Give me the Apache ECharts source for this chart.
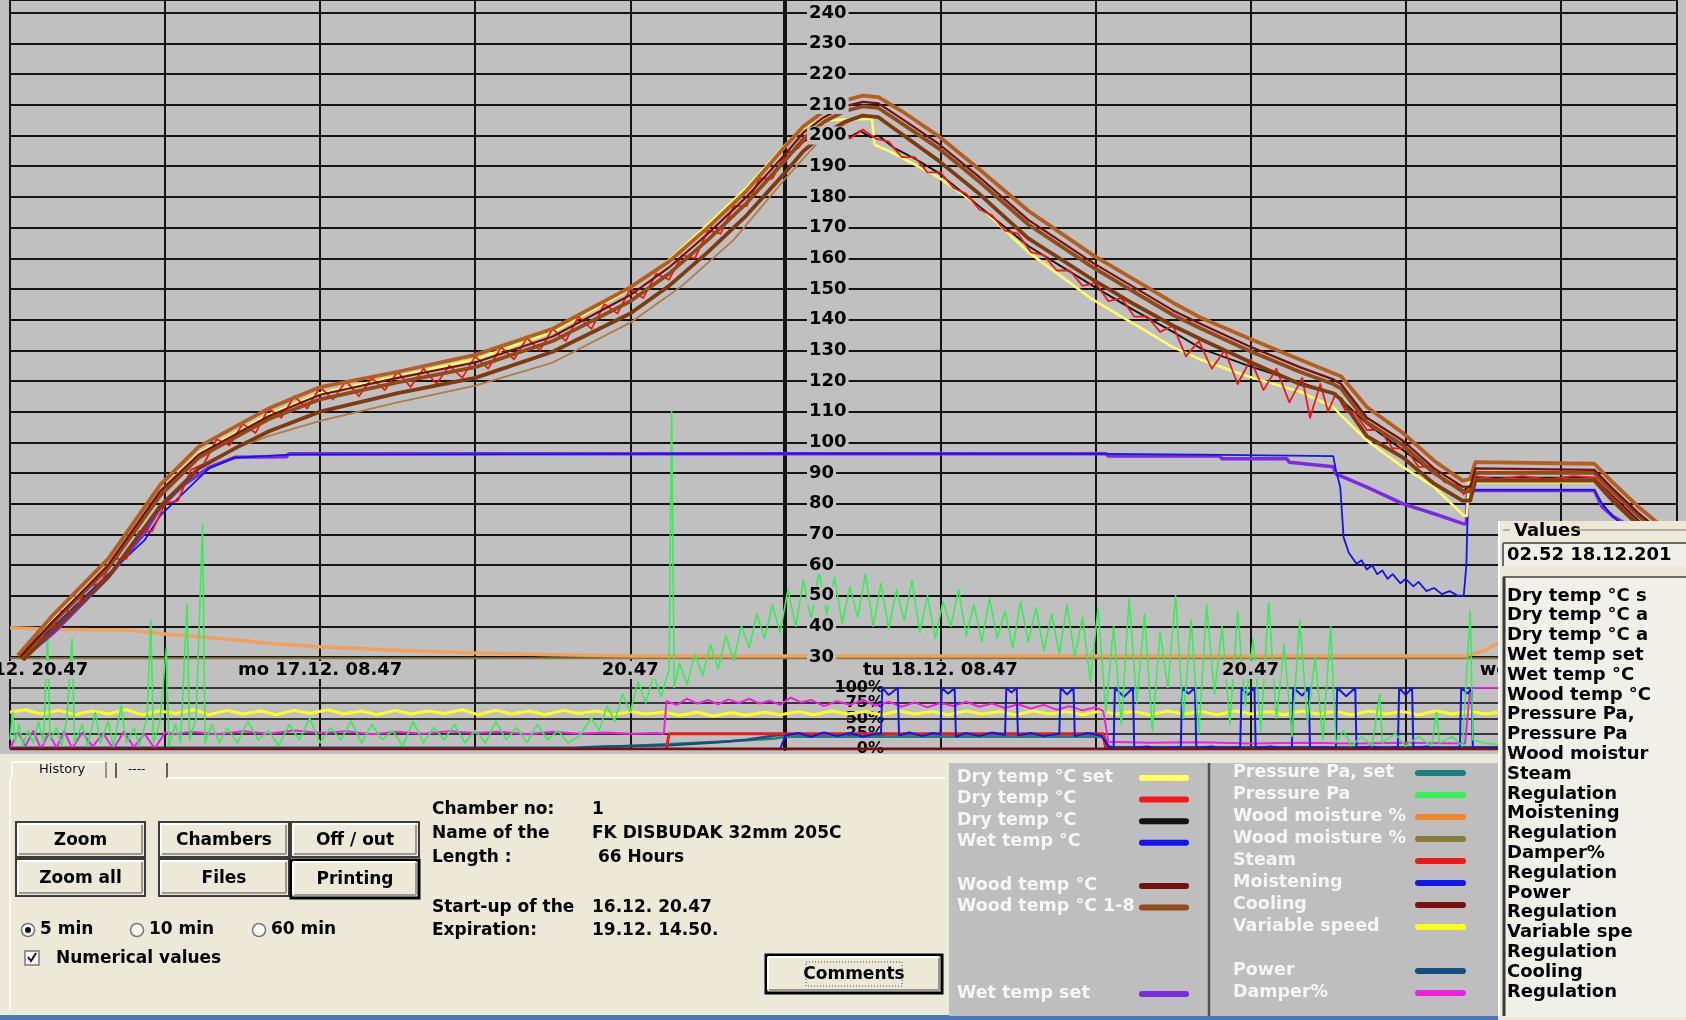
<!DOCTYPE html>
<html>
<head>
<meta charset="utf-8">
<script src="https://cdn.jsdelivr.net/npm/echarts@6/dist/echarts.min.js"></script>
<style>
  html, body { margin: 0; padding: 0; background: #c0c0c0; }
  #chart { width: 1686px; height: 1020px; }
</style>
</head>
<body>
<div id="chart"></div>
<script>
// ---- time axis: hours after start-up 16.12. 20.47 ----
const timeTicks = [0, 12, 24, 36, 48, 60];
const timeTickLabels = ['su 16.12. 20.47', 'mo 17.12. 08.47', '20.47', 'tu 18.12. 08.47', '20.47', 'we 19.12. 08.47'];
// percent strip tick labels, split over two label rows so none get dropped
const pctLabelsMain = [0, 50, 100];
const pctLabelsQuarter = [25, 75];

// ---- temperature scale series: [hour, value] ----
const dryTempSet = [[0.4,30],[1.7,42.5],[3.8,60],[5.8,84],[7.3,96.5],[8.7,103],[10,109],[12,116],[15,121.5],[18,127],[21,136],[24,150],[25.5,159.5],[27,171],[28.5,183],[30,197],[30.8,203],[31.5,205],[33.35,205.5],[33.45,197],[34,195],[35.9,186.5],[37.5,177],[39.4,162],[41.9,146.5],[43.5,138.5],[45,131],[46.05,127],[47.9,121.5],[49.9,116.5],[51.2,111.5],[51.5,108.8],[52.5,100.6],[53.9,91.9],[55.1,85.4],[56.25,76.1],[56.37,76],[56.45,87],[61.3,87],[62,81],[63,73],[64,66],[64.5,63]];

const dryTemp = [[0.5,30],[1,36],[1.5,37],[2,45],[2.5,45],[3,53],[3.5,54],[4,62],[4.5,62],[5,71],[5.5,71],[6,80],[6.5,81],[7,91],[7.5,93],[8,101],[8.5,99],[9,106],[9.5,103],[10,111],[10.5,108],[11,115],[11.5,111],[12,118],[12.5,114],[13,120],[13.5,115],[14,121],[14.5,117],[15,123],[15.5,118],[16,124],[16.5,119],[17,125],[17.5,121],[18,128],[18.5,124],[19,131],[19.5,127],[20,134],[20.5,130],[21,137],[21.5,133],[22,141],[22.5,137],[23,145],[23.5,142],[24,150],[24.5,147],[25,155],[25.5,153],[26,161],[26.5,160],[27,169],[27.5,168],[28,177],[28.5,177],[29,186],[29.5,186],[30,194],[30.5,196],[31,201],[31.5,199],[32,202],[32.5,199],[33,202],[33.5,199],[34,198],[34.5,193],[35,193],[35.5,188],[36,188],[36.5,183],[37,181],[37.5,176],[38,174],[38.5,169],[39,168],[39.5,162],[40,161],[40.5,156],[41,156],[41.5,151],[42,152],[42.5,146],[43,147],[43.5,141],[44,141],[44.5,136],[45,138],[45.5,128],[46,133],[46.5,124],[47,130],[47.5,119],[48,127],[48.5,117],[49,124],[49.5,113],[50,121],[50.3,108],[50.7,119],[51,110],[51.3,116],[51.7,110],[52,110],[52.5,104],[53,104],[53.5,98],[54,98],[54.5,92],[55,92],[55.5,87],[56,86],[56.25,83],[56.5,86],[56.7,89],[57.5,88],[58.5,89],[59.5,88],[60.5,89],[61.3,88.5],[62,82],[63,74],[64,66]];

const dryTemp2 = [[0.4,30.5],[1.7,42],[3.8,59.5],[5.8,83],[7.3,95],[8.7,101.5],[10,107.5],[12,114],[15,119.5],[18,124.5],[21,133],[24,146],[25.5,155],[27,166],[28.5,178],[30,192],[30.7,198],[31.3,201],[31.7,199.5],[32.1,201.5],[32.5,199.5],[32.9,201.5],[33.3,199.5],[33.6,200],[34.2,196],[35,192.5],[35.9,188],[37.5,177],[39.4,164],[41.9,151],[43.5,143],[45,136],[46.1,130.5],[47.9,125],[49.9,119.5],[51.2,116],[51.5,114],[52.5,106],[53.9,97.4],[55.1,90],[56.25,84.3],[56.5,86],[56.7,88.5],[61.3,88.5],[62,82.5],[63,74.5],[64,67],[64.5,64]];

const wetTemp = [[0.4,30],[1.7,40],[3.8,57],[5.2,68],[5.8,76],[7.7,91.5],[8.7,95],[10.8,96],[30,96.3],[42.4,96.2],[46,96],[51.2,95.5],[51.3,91],[51.47,85.4],[51.6,69],[51.8,64],[52.1,60.4],[52.3,61.5],[52.5,58.5],[52.7,60],[52.9,57],[53.1,58.2],[53.3,55.5],[53.5,57],[53.8,54],[54,55.5],[54.3,53],[54.5,54.5],[54.8,51.5],[55.1,52.5],[55.4,50.5],[55.7,51.5],[56,50],[56.25,50],[56.35,60],[56.42,84.5],[61.3,84.5],[61.6,80],[62,76],[62.5,72]];

const wetTempSet = [[0.5,29.5],[1.7,38],[3.8,56],[5.2,70.3],[5.8,78.6],[6.7,86],[7.7,91.8],[8.7,95.1],[10.7,95.3],[10.8,96.3],[42.4,96.3],[42.5,95.5],[46.8,95.5],[46.9,94.6],[49.4,94.6],[49.5,93.5],[51.2,92],[51.3,89.7],[52.5,85.4],[53.9,79.9],[55.1,76.7],[56.25,73.4],[56.35,73.4],[56.4,84.3],[61.3,84.3],[61.6,79],[62,76],[62.4,74]];

const woodTemp = [[0.4,30],[1.7,42],[3.8,60],[5.8,84],[7.3,96],[8.7,102.5],[10,108.5],[12,115.5],[15,121],[18,126],[21,134.5],[24,148],[25.5,157],[27,168],[28.5,180],[30,194],[30.7,201],[31.5,206],[32.3,209.5],[33,211],[33.6,210.5],[34.5,205.5],[35.9,197.5],[37.5,186.5],[39.4,172.5],[41.9,158.5],[43.5,150.5],[45,143],[46.1,138.5],[47.9,131.5],[49.9,124.5],[51.2,120.5],[51.5,119],[52.5,108],[53.9,100.5],[55.1,91.5],[56.2,85.5],[56.5,85.5],[56.7,91.5],[61.3,91],[62,85],[63,77],[64,70],[64.5,67]];

const woodTempS1 = [[0.3,30.5],[1.7,44],[3.8,62],[5.8,86],[7.3,98.5],[8.7,105],[10,111],[12,118],[15,123],[18,128.5],[21,137],[24,150.5],[25.5,159],[27,170],[28.5,182],[30,196.5],[30.7,203],[31.5,208],[32.3,211.5],[33,213],[33.6,212.5],[34.5,208],[35.9,200],[37.5,189],[39.4,175.5],[41.9,161],[43.5,153],[45,145.5],[46.1,140.5],[47.9,134],[49.9,127],[51.2,122.5],[51.5,121.5],[52.5,111.5],[53.9,103],[55.1,94],[56.2,87.5],[56.5,88],[56.7,93.5],[61.3,93],[62,87],[63,79],[64,72],[64.5,69]];

const woodTempS2 = [[0.4,29.5],[1.7,41.5],[3.8,59],[5.8,82.5],[7.3,95],[8.7,101.5],[10,107.5],[12,114],[15,119.5],[18,124.5],[21,133],[24,146],[25.5,155],[27,166],[28.5,178],[30,192],[30.7,199],[31.5,204.5],[32.3,208],[33,209.5],[33.6,209],[34.5,204],[35.9,196],[37.5,185],[39.4,171],[41.9,157],[43.5,149],[45,141.5],[46.1,137],[47.9,130],[49.9,123],[51.2,119],[51.5,117.5],[52.5,106.5],[53.9,99],[55.1,90],[56.2,84],[56.5,84],[56.7,90],[61.3,90],[62,84],[63,76],[64,69],[64.5,66]];

const woodTempS3 = [[0.5,29],[1.7,39],[3.8,56],[5.8,79],[7.3,91.5],[8.7,98],[10,103.5],[12,110],[15,116],[18,121],[21,129.5],[24,142],[25.5,151],[27,162],[28.5,174],[30,188],[30.7,195],[31.5,200.5],[32.3,204.5],[33,206.5],[33.6,206],[34.5,200.5],[35.9,192],[37.5,181],[39.4,166.5],[41.9,153],[43.5,145],[45,138],[46.1,133.5],[47.9,126.5],[49.9,119],[51.2,116],[51.5,114],[52.5,102],[53.9,95],[55.1,86.5],[56.2,81],[56.5,81],[56.7,87.5],[61.3,87.5],[62,81],[63,73],[64,66],[64.5,63]];

const woodTempS4 = [[7.5,93],[8.7,98],[10,102],[12,107],[15,113],[18,118.5],[21,126],[24,139],[26,151],[28,166],[30,186],[31.5,200],[33,207]];

const pressure = [[0,3],[0.1,12],[0.2,2],[0.35,8],[0.5,1],[0.7,6],[0.9,2],[1.1,9],[1.3,2],[1.45,38],[1.55,3],[1.8,7],[2,1],[2.2,10],[2.4,36],[2.5,2],[2.8,8],[3,1],[3.3,12],[3.5,2],[3.8,9],[4,1],[4.3,14],[4.5,2],[4.8,7],[5,1],[5.3,10],[5.45,42],[5.55,2],[5.8,9],[6.05,33],[6.15,1],[6.4,8],[6.6,2],[6.85,47],[6.95,3],[7.2,10],[7.45,73],[7.55,2],[7.8,8],[8.1,2],[8.4,7],[8.8,2],[9.2,9],[9.6,3],[10,6],[10.4,1],[10.8,8],[11.2,3],[11.6,10],[12,2],[12.4,7],[12.8,3],[13.2,9],[13.6,2],[14,8],[14.4,3],[14.8,6],[15.2,1],[15.6,9],[16,2],[16.4,7],[16.8,3],[17.2,8],[17.6,2],[18,6],[18.4,2],[18.8,9],[19.2,3],[19.6,7],[20,2],[20.4,8],[20.8,3],[21.2,6],[21.6,2],[22,4],[22.5,10],[22.8,6],[23.1,14],[23.4,9],[23.7,18],[24,12],[24.3,22],[24.6,15],[24.9,24],[25.2,17],[25.5,26],[25.6,110],[25.7,20],[25.9,28],[26.2,21],[26.5,31],[26.8,24],[27.1,34],[27.4,26],[27.7,37],[28,29],[28.3,40],[28.6,33],[28.9,44],[29.2,36],[29.5,47],[29.8,38],[30.1,52],[30.4,40],[30.7,55],[31,42],[31.3,58],[31.6,44],[31.9,56],[32.2,41],[32.5,53],[32.8,43],[33.1,57],[33.4,40],[33.7,54],[34,39],[34.3,52],[34.6,42],[34.9,55],[35.2,38],[35.5,50],[35.8,36],[36.1,48],[36.4,40],[36.7,52],[37,37],[37.3,47],[37.6,35],[37.9,49],[38.2,36],[38.5,45],[38.8,33],[39.1,48],[39.4,35],[39.7,46],[40,32],[40.3,44],[40.6,31],[40.9,47],[41.2,30],[41.5,43],[41.8,22],[42.1,46],[42.4,12],[42.7,40],[43,8],[43.3,49],[43.6,15],[43.9,44],[44.2,6],[44.5,38],[44.8,20],[45.1,50],[45.4,10],[45.7,42],[46,5],[46.3,47],[46.6,18],[46.9,40],[47.2,8],[47.5,45],[47.8,14],[48.1,36],[48.4,6],[48.7,48],[49,10],[49.3,34],[49.6,4],[49.9,42],[50.2,9],[50.5,30],[50.8,3],[51.1,40],[51.3,2],[51.6,6],[51.9,1],[52.3,4],[52.7,1],[53,18],[53.1,2],[53.6,5],[54,1],[54.5,4],[55,1],[55.2,12],[55.3,2],[55.8,4],[56.2,1],[56.5,45],[56.6,3],[57,2],[58,1],[60,2],[62,1],[64.5,2]];

const woodMoisture = [[0,39.5],[2,39],[4.5,38.8],[6,37.5],[7.5,36.5],[10,34.5],[12,33.3],[15,32.2],[18,31.3],[21,30.7],[24,30.3],[56.3,30.3],[57,32],[57.7,35],[58.5,38],[60,42]];
const woodMoisture2 = [[0,29.6],[64.5,29.6]];

// ---- 0..100 % channel strip: [hour, percent] ----
const cooling = [[0,0],[64.5,0]];
const steam = [[25.4,0],[25.5,25],[42.3,25],[42.4,0]];
const power = [[0,2],[21.8,2],[23,4],[25.5,6],[27.4,11],[28.5,15],[29.6,22],[30,24],[42.3,24],[42.5,3],[64.5,3]];
const pressureSet = [[0,1],[22,1],[24,5],[26,9],[28,13],[29.6,17],[30,20],[42.3,20],[42.5,1],[64.5,1]];
const damper = [[0,0],[0.3,28],[0.6,5],[0.9,30],[1.2,0],[1.5,26],[1.8,2],[2.1,29],[2.4,1],[2.8,27],[3.2,4],[3.6,26],[4,0],[4.4,28],[4.8,3],[5.2,25],[5.6,1],[6,27],[6.4,24],[7,28],[8,24],[9,29],[10,25],[11,30],[12,26],[13,29],[14,24],[15,28],[16,25],[17,29],[18,26],[19,28],[20,24],[21,28],[22,25],[23,27],[24,25],[25,26],[25.3,25],[25.4,78],[25.8,72],[26.2,82],[26.6,74],[27,80],[27.4,73],[27.8,81],[28.2,75],[28.6,82],[29,74],[29.4,79],[29.8,72],[30.2,84],[30.6,76],[31,80],[31.5,70],[32,78],[32.5,72],[33,80],[33.5,71],[34,77],[34.5,69],[35,76],[35.5,68],[36,75],[36.5,70],[37,77],[37.5,69],[38,74],[38.5,67],[39,73],[39.5,66],[40,72],[40.5,64],[41,70],[41.5,63],[42,68],[42.3,62],[42.5,12],[44,10],[46,11],[48,9],[50,10],[52,9],[54,10],[56.3,9],[56.5,100],[64.5,100]];
const moistening = [[29.8,0],[30,22],[30.5,26],[31,20],[31.5,27],[32,21],[32.5,26],[33,20],[33.5,25],[33.7,25],[33.75,100],[34,88],[34.35,100],[34.4,22],[34.8,27],[35.3,21],[35.7,26],[36,24],[36.05,100],[36.3,90],[36.55,100],[36.6,20],[37,26],[37.5,21],[38,27],[38.5,23],[38.55,100],[38.75,92],[38.95,100],[39,22],[39.5,26],[40,21],[40.6,25],[40.65,100],[40.9,89],[41.15,100],[41.2,21],[41.7,26],[42.2,22],[42.5,5],[42.7,2],[42.75,100],[43.1,85],[43.45,100],[43.5,2],[44,4],[44.5,1],[45,3],[45.3,2],[45.35,100],[45.6,90],[45.85,100],[45.9,2],[46.5,4],[47,1],[47.6,3],[47.65,100],[47.9,88],[48.15,100],[48.2,2],[48.8,4],[49.2,1],[49.6,3],[49.65,100],[50,87],[50.25,100],[50.3,2],[50.8,3],[51.3,1],[51.35,100],[51.7,86],[52.05,100],[52.1,2],[52.7,4],[53.2,1],[53.7,3],[53.75,100],[54,88],[54.25,100],[54.3,2],[54.8,4],[55.5,1],[56.1,3],[56.15,100],[56.4,90],[56.55,100],[56.6,2],[64.5,2]];
const variableSpeed = [[0,60],[0.6,64],[1.2,57],[1.9,63],[2.5,56],[3.2,62],[3.8,57],[4.5,64],[5.1,56],[5.8,62],[6.4,58],[7.1,64],[7.7,56],[8.4,63],[9,57],[9.7,62],[10.3,56],[11,63],[11.6,58],[12.3,64],[12.9,57],[13.6,62],[14.2,56],[14.9,63],[15.5,57],[16.2,62],[16.8,58],[17.5,64],[18.1,56],[18.8,63],[19.4,57],[20.1,62],[20.7,56],[21.4,63],[22,58],[22.7,62],[23.3,56],[24,61],[24.6,57],[25.3,60],[25.9,55],[26.6,60],[27.2,54],[27.9,59],[28.5,55],[29.2,60],[29.8,56],[30.5,61],[31.1,56],[31.8,62],[32.4,57],[33.1,61],[33.7,56],[34.4,62],[35,57],[35.7,61],[36.3,56],[37,62],[37.6,57],[38.3,61],[38.9,56],[39.6,62],[40.2,57],[40.9,61],[41.5,56],[42.2,62],[42.8,57],[43.5,61],[44.1,56],[44.8,62],[45.4,57],[46.1,61],[46.7,56],[47.4,62],[48,57],[48.7,61],[49.3,56],[50,62],[50.6,57],[51.3,61],[51.9,56],[52.6,62],[53.2,57],[53.9,61],[54.5,56],[55.2,62],[55.8,57],[56.5,61],[57.1,57],[57.8,61],[58.4,56],[59.1,62],[59.7,57],[60.4,61],[61,56],[61.7,62],[62.3,57],[63,61],[63.6,56],[64.3,60],[64.5,59]];

// ---- panel texts ----
const legendLeft = ['Dry temp °C set', 'Dry temp °C', 'Dry temp °C', 'Wet temp °C', '', 'Wood temp °C', 'Wood temp °C 1-8', '', '', '', 'Wet temp set'];
const legendRight = ['Pressure Pa, set', 'Pressure Pa', 'Wood moisture %', 'Wood moisture %', 'Steam', 'Moistening', 'Cooling', 'Variable speed', '', 'Power', 'Damper%'];
const valueItems = ['Dry temp °C s', 'Dry temp °C a', 'Dry temp °C a', 'Wet temp set', 'Wet temp °C', 'Wood temp °C', 'Pressure Pa,', 'Pressure Pa', 'Wood moistur', 'Steam', 'Regulation', 'Moistening', 'Regulation', 'Damper%', 'Regulation', 'Power', 'Regulation', 'Variable spe', 'Regulation', 'Cooling', 'Regulation'];
const infoLabels = ['Chamber no:', 'Name of the', 'Length :', 'Start-up of the', 'Expiration:'];
const infoValues = ['1', 'FK DISBUDAK 32mm 205C', ' 66 Hours', '16.12. 20.47', '19.12. 14.50.'];
const buttonLabels = ['Zoom', 'Chambers', 'Off / out', 'Zoom all', 'Files', 'Printing'];
const intervalOptions = ['5 min', '10 min', '60 min'];
const cursorTime = '02.52 18.12.201';

// ---- colours ----
const C = {
  dryTempSet: '#ffff66', dryTemp: '#f01818', dryTemp2: '#111111', wetTemp: '#1414f0',
  woodTemp: '#741212', woodTempS: ['#b45f22', '#93491a', '#7e3a10', '#b07a4a'], wetTempSet: '#7b2be0',
  pressureSet: '#1a8080', pressure: '#36ee58', woodMoisture: '#f0a060', woodMoistureLeg: '#f08828', woodMoisture2: '#8a7a40',
  steam: '#f01818', moistening: '#1414f0', cooling: '#7a1010', variableSpeed: '#ffff20', power: '#154f80', damper: '#f020e0'
};
const legendLeftColors = [C.dryTempSet, C.dryTemp, C.dryTemp2, C.wetTemp, null, C.woodTemp, C.woodTempS[1], null, null, null, C.wetTempSet];
const legendRightColors = [C.pressureSet, C.pressure, C.woodMoistureLeg, C.woodMoisture2, C.steam, C.moistening, C.cooling, C.variableSpeed, null, C.power, C.damper];

const PLOT_BG = '#c0c0c0';
const PANEL_BG = '#ece9d8';
const FONT = '"DejaVu Sans"';

function temp(name, data, color, width) {
  return { type: 'line', name, data, xAxisIndex: 2, yAxisIndex: 2, symbol: 'none', silent: true,
    lineStyle: { color, width, join: 'round' }, itemStyle: { color }, animation: false };
}
function pct(name, data, color, width) {
  return { type: 'line', name, data, xAxisIndex: 1, yAxisIndex: 1, symbol: 'none', silent: true,
    lineStyle: { color, width }, itemStyle: { color }, animation: false };
}

// ---- window furniture drawn with graphic elements ----
const G = [];
function rect(x, y, w, h, fill, stroke, lw, z, dash) {
  G.push({ type: 'rect', silent: true, z: z || 100, shape: { x, y, width: w, height: h },
    style: { fill: fill || 'rgba(0,0,0,0)', stroke: stroke || null, lineWidth: lw || 0, lineDash: dash || null } });
}
function seg(x1, y1, x2, y2, color, lw, z, cap) {
  G.push({ type: 'line', silent: true, z: z || 101, shape: { x1, y1, x2, y2 },
    style: { stroke: color, lineWidth: lw, lineCap: cap || 'butt' } });
}
function label(x, y, s, size, color, align, weight, z) {
  G.push({ type: 'text', silent: true, z: z || 102, x, y,
    style: { text: s, font: (weight || 'bold') + ' ' + size + 'px ' + FONT, fill: color || '#000',
      textAlign: align || 'left', align: align || 'left', textVerticalAlign: 'middle', verticalAlign: 'middle' } });
}
function button(x, y, w, h, text, isDefault) {
  rect(x, y, w, h, PANEL_BG, isDefault ? '#000' : '#3c3c3c', isDefault ? 3 : 2);
  seg(x + 2, y + 2, x + w - 3, y + 2, '#ffffff', 2);
  seg(x + 2, y + 2, x + 2, y + h - 3, '#ffffff', 2);
  seg(x + 3, y + h - 3, x + w - 3, y + h - 3, '#9a9a90', 2);
  seg(x + w - 3, y + 3, x + w - 3, y + h - 3, '#9a9a90', 2);
  label(x + w / 2, y + h / 2 + 1, text, 17, '#000', 'center');
}

// lower left panel
rect(0, 754, 1686, 266, PANEL_BG, null, 0, 99);
rect(0, 1015, 1686, 5, '#4a78b0', null, 0, 99);
seg(12, 762, 106, 762, '#ffffff', 1.5);
seg(12, 762, 12, 778, '#ffffff', 1.5);
seg(106, 762, 106, 778, '#7a7a70', 1.5);
label(39, 770, 'History', 13, '#111', 'left', 'normal');
seg(116, 763, 116, 778, '#333', 1.5);
label(128, 770, '----', 12, '#111', 'left', 'normal');
seg(167, 763, 167, 778, '#333', 1.5);
seg(167, 778, 946, 778, '#ffffff', 1.5);
seg(10, 778, 10, 1010, '#ffffff', 1.5);

const btnPos = [[16, 822, 129, 35], [159, 822, 130, 35], [291, 822, 128, 35], [16, 859, 129, 37], [159, 859, 130, 37], [291, 860, 128, 38]];
buttonLabels.forEach((b, i) => button(btnPos[i][0], btnPos[i][1], btnPos[i][2], btnPos[i][3], b, b === 'Printing'));

const radioX = [28, 137, 259];
intervalOptions.forEach((o, i) => {
  G.push({ type: 'circle', silent: true, z: 101, shape: { cx: radioX[i], cy: 930, r: 6.5 }, style: { fill: '#fff', stroke: '#777', lineWidth: 1.5 } });
  if (i === 0) G.push({ type: 'circle', silent: true, z: 102, shape: { cx: radioX[i], cy: 930, r: 3 }, style: { fill: '#111' } });
  label(radioX[i] + 12, 930, o, 17);
});
rect(25, 951, 14, 14, '#fff', '#777', 1.5, 101);
G.push({ type: 'polyline', silent: true, z: 102, shape: { points: [[28, 957], [31, 961], [36, 953]] }, style: { stroke: '#111', lineWidth: 2, fill: null } });
label(56, 959, 'Numerical values', 17);

const infoY = [810, 834, 858, 908, 931];
infoLabels.forEach((t, i) => label(432, infoY[i], t, 17));
infoValues.forEach((t, i) => label(592, infoY[i], t, 17));

button(766, 955, 176, 38, 'Comments', true);
rect(806, 962, 96, 24, null, '#444', 1, 103, [1, 2]);

// legend panel
rect(949, 763, 259, 253, '#bebebe', null, 0, 100);
rect(1210, 763, 288, 253, '#bebebe', null, 0, 100);
seg(1209, 763, 1209, 1016, '#505050', 2.5);
legendLeft.forEach((t, i) => {
  if (!t) return;
  const y = 777 + i * 21.6;
  label(957, y, t, 17.5, '#f6f6f6');
  seg(1142, y + 1, 1186, y + 1, legendLeftColors[i], 6, 102, 'round');
});
legendRight.forEach((t, i) => {
  if (!t) return;
  const y = 772 + i * 22;
  label(1233, y, t, 17.5, '#f6f6f6');
  seg(1418, y + 1, 1463, y + 1, legendRightColors[i], 6, 102, 'round');
});

// values panel
rect(1498, 521, 188, 499, PANEL_BG, null, 0, 100);
seg(1499, 521, 1499, 1016, '#ffffff', 2);
seg(1503, 530, 1510, 530, '#9a9a90', 1.5);
seg(1574, 530, 1686, 530, '#9a9a90', 1.5);
label(1514, 531, 'Values', 18);
rect(1503, 543, 190, 23, '#f1f0e8', null, 0, 101);
seg(1503, 543, 1686, 543, '#6a6a6a', 2);
seg(1503, 543, 1503, 566, '#6a6a6a', 2);
label(1507, 555, cursorTime, 18);
rect(1503, 577, 190, 440, '#f1f0e8', null, 0, 101);
seg(1503, 577, 1686, 577, '#6a6a6a', 2);
seg(1504, 577, 1504, 1016, '#3a3a3a', 3);
valueItems.forEach((t, i) => label(1507, 596 + i * 19.8, t, 18));

const pctLabelStyle = { margin: 4, showMinLabel: true, showMaxLabel: true, hideOverlap: false,
  fontFamily: FONT, fontWeight: 'bold', fontSize: 16, color: '#000' };

const gridBase = { left: 10, right: 9, containLabel: false, outerBoundsMode: 'none' };
const option = {
  backgroundColor: PLOT_BG,
  animation: false,
  grid: [
    Object.assign({ top: 0, bottom: 363 }, gridBase),
    Object.assign({ top: 687.7, bottom: 271 }, gridBase),
    Object.assign({ top: 0, bottom: 271 }, gridBase)
  ],
  xAxis: [
    { gridIndex: 0, type: 'value', min: 0, max: 64.5, interval: 6, z: 5,
      axisLine: { show: false }, axisTick: { show: false }, splitLine: { show: false },
      axisLabel: { margin: 4, fontFamily: FONT, fontWeight: 'bold', fontSize: 18, color: '#000',
        backgroundColor: PLOT_BG, padding: [0, 2], showMinLabel: true, hideOverlap: false,
        formatter: v => { const i = timeTicks.indexOf(v); return i >= 0 ? timeTickLabels[i] : ''; } } },
    { gridIndex: 1, type: 'value', min: 0, max: 64.5, show: false },
    { gridIndex: 2, type: 'value', min: 0, max: 64.5, interval: 6,
      axisLine: { show: false }, axisTick: { show: false }, axisLabel: { show: false },
      splitLine: { show: true, lineStyle: { color: '#141414', width: 2 } } }
  ],
  yAxis: [
    // temperature labels sit on top of the curves
    { gridIndex: 0, type: 'value', min: 30, max: 244.2, interval: 10, position: 'left', offset: -775, z: 5,
      axisLine: { show: false }, axisTick: { show: false }, splitLine: { show: false },
      axisLabel: { inside: true, margin: 22, showMinLabel: true, showMaxLabel: false, hideOverlap: false,
        fontFamily: FONT, fontWeight: 'bold', fontSize: 18,
        color: '#000', backgroundColor: PLOT_BG, padding: [0, 2],
        formatter: v => (v > 240 ? '' : String(v)) } },
    // percent strip: grid lines plus the 0 / 50 / 100 labels
    { gridIndex: 1, type: 'value', min: 0, max: 100, interval: 25, position: 'left', offset: -878,
      axisLine: { show: false }, axisTick: { show: false },
      axisLabel: Object.assign({ formatter: v => (pctLabelsMain.indexOf(v) >= 0 ? v + '%' : '') }, pctLabelStyle),
      splitLine: { show: true, lineStyle: { color: '#383838', width: 2 } } },
    { gridIndex: 2, type: 'value', min: 0, max: 244.2, position: 'left', offset: -775,
      axisLine: { show: true, lineStyle: { color: '#141414', width: 4 } },
      axisTick: { show: false }, axisLabel: { show: false }, splitLine: { show: false } },
    // temperature grid lines
    { gridIndex: 0, type: 'value', min: 30, max: 244.2, interval: 10, position: 'right',
      axisLine: { show: false }, axisTick: { show: false }, axisLabel: { show: false },
      splitLine: { show: true, lineStyle: { color: '#141414', width: 2 } } },
    // percent strip: the 25 / 75 labels
    { gridIndex: 1, type: 'value', min: 0, max: 100, interval: 25, position: 'right', offset: -(1686 - 10 - 9 - 878),
      axisLine: { show: false }, axisTick: { show: false }, splitLine: { show: false },
      axisLabel: Object.assign({ inside: true, formatter: v => (pctLabelsQuarter.indexOf(v) >= 0 ? v + '%' : '') }, pctLabelStyle) }
  ],
  series: [
    pct('Pressure Pa, set', pressureSet, C.pressureSet, 2.5),
    pct('Power', power, C.power, 2.5),
    pct('Variable speed', variableSpeed, C.variableSpeed, 3),
    pct('Damper%', damper, C.damper, 2),
    pct('Steam', steam, C.steam, 3),
    pct('Moistening', moistening, C.moistening, 2),
    pct('Cooling', cooling, C.cooling, 3),
    temp('Wood moisture % 2', woodMoisture2, C.woodMoisture2, 2),
    temp('Wood moisture %', woodMoisture, C.woodMoisture, 3.5),
    temp('Pressure Pa', pressure, C.pressure, 1.6),
    temp('Wet temp set', wetTempSet, C.wetTempSet, 3.5),
    temp('Wet temp °C', wetTemp, C.wetTemp, 1.8),
    temp('Dry temp °C set', dryTempSet, C.dryTempSet, 2.5),
    temp('Dry temp °C (b)', dryTemp2, C.dryTemp2, 1.8),
    temp('Dry temp °C', dryTemp, C.dryTemp, 1.8),
    temp('Wood temp °C 1-8 (4)', woodTempS4, C.woodTempS[3], 1.8),
    temp('Wood temp °C 1-8 (3)', woodTempS3, C.woodTempS[2], 3.8),
    temp('Wood temp °C 1-8 (2)', woodTempS2, C.woodTempS[1], 3.8),
    temp('Wood temp °C 1-8 (1)', woodTempS1, C.woodTempS[0], 3.8),
    temp('Wood temp °C', woodTemp, C.woodTemp, 2.2)
  ],
  graphic: { elements: G }
};

const chart = echarts.init(document.getElementById('chart'), null, { renderer: 'canvas', width: 1686, height: 1020 });
chart.setOption(option);
</script>
</body>
</html>
